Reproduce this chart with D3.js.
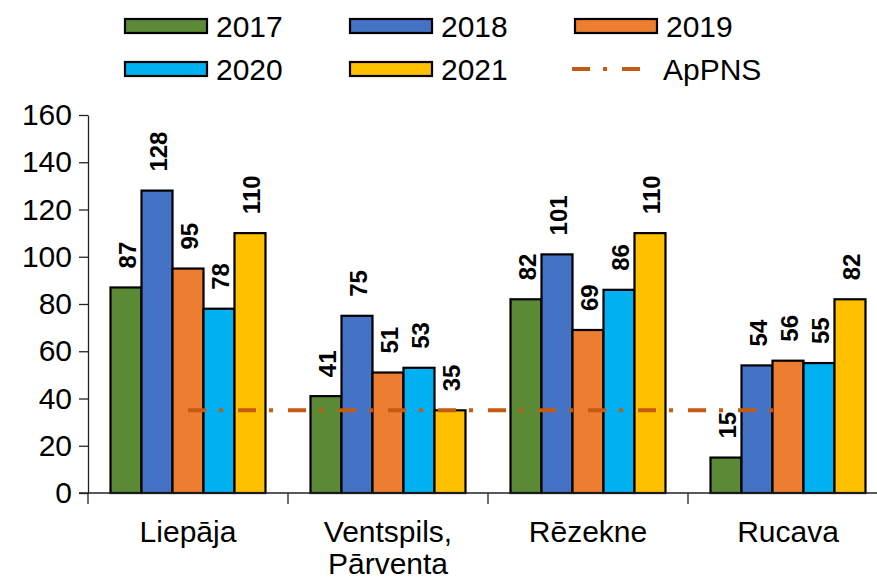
<!DOCTYPE html>
<html>
<head>
<meta charset="utf-8">
<script src="https://cdn.jsdelivr.net/npm/d3@7"></script>
<style>
  body { margin: 0; background: #fff; }
  svg { display: block; font-family: "Liberation Sans", Arial, sans-serif; }
</style>
</head>
<body>
<svg id="chart" width="877" height="580"></svg>
<script>
// Data
const categories = [["Liepāja"], ["Ventspils,", "Pārventa"], ["Rēzekne"], ["Rucava"]];
const years = ["2017", "2018", "2019", "2020", "2021"];
const values = [
    [87, 128, 95, 78, 110],   // Liepāja
    [41, 75, 51, 53, 35],     // Ventspils, Pārventa
    [82, 101, 69, 86, 110],   // Rēzekne
    [15, 54, 56, 55, 82]      // Rucava
];
const apPNS = [35, 35, 35, 35];
const yTicks = [0, 20, 40, 60, 80, 100, 120, 140, 160];

// Colors
const colors = ["#5a8a35", "#4472c4", "#ed7d31", "#00b0f0", "#ffc000"];
const lineColor = "#c55a11";

const svg = d3.select("#chart");

// Scales
const catIdx = categories.map((d, i) => i);
const x0 = d3.scaleBand().domain(catIdx).range([88, 888]).padding(0);
const x1 = d3.scaleBand().domain(years).range([0, x0.bandwidth()])
    .paddingInner(0).paddingOuter(0.726);
const y = d3.scaleLinear().domain([0, 160]).range([493, 115]);

// Y axis
const yAxis = svg.append("g")
    .attr("transform", "translate(88,0)")
    .call(d3.axisLeft(y).tickValues(yTicks).tickSize(9).tickPadding(7).tickSizeOuter(0));
yAxis.select(".domain").attr("stroke", "#222").attr("stroke-width", 1.3);
yAxis.selectAll(".tick line").attr("stroke", "#222").attr("stroke-width", 1.3);
yAxis.selectAll(".tick text")
    .attr("font-size", 30)
    .attr("fill", "#000")
    .attr("font-family", "Liberation Sans, Arial, sans-serif");

// Bars
const groups = svg.append("g")
    .selectAll("g")
    .data(values)
    .join("g")
    .attr("transform", (d, i) => `translate(${x0(i)},0)`);

groups.selectAll("rect")
    .data(d => d.map((v, j) => ({ year: years[j], v, j })))
    .join("rect")
    .attr("x", d => x1(d.year))
    .attr("y", d => y(d.v))
    .attr("width", x1.bandwidth())
    .attr("height", d => y(0) - y(d.v))
    .attr("fill", d => colors[d.j])
    .attr("stroke", "#000")
    .attr("stroke-width", 2.2);

// Value labels (rotated)
groups.selectAll("text")
    .data(d => d.map((v, j) => ({ year: years[j], v, j })))
    .join("text")
    .attr("transform", d => `translate(${x1(d.year) + x1.bandwidth() / 2 + 1},${y(d.v) - 19}) rotate(-90)`)
    .attr("dy", "0.36em")
    .attr("text-anchor", "start")
    .attr("font-size", 24)
    .attr("font-weight", "bold")
    .attr("fill", "#000")
    .text(d => d.v);

// X axis
const xAxis = svg.append("g");
xAxis.append("line")
    .attr("x1", 79).attr("x2", 877)
    .attr("y1", y(0)).attr("y2", y(0))
    .attr("stroke", "#222").attr("stroke-width", 1.3);
xAxis.selectAll("line.tk")
    .data(d3.range(categories.length + 1))
    .join("line")
    .attr("class", "tk")
    .attr("x1", d => 88 + d * x0.step()).attr("x2", d => 88 + d * x0.step())
    .attr("y1", y(0)).attr("y2", y(0) + 11)
    .attr("stroke", "#222").attr("stroke-width", 1.3);

const catLabel = xAxis.selectAll("text")
    .data(categories)
    .join("text")
    .attr("x", (d, i) => x0(i) + x0.bandwidth() / 2)
    .attr("y", 542)
    .attr("text-anchor", "middle")
    .attr("font-size", 30)
    .attr("fill", "#000");
catLabel.selectAll("tspan")
    .data(d => d)
    .join("tspan")
    .attr("x", function () { return d3.select(this.parentNode).attr("x"); })
    .attr("dy", (d, i) => i === 0 ? 0 : 32)
    .text(d => d);

// ApPNS line
const line = d3.line()
    .x((d, i) => x0(i) + x0.bandwidth() / 2)
    .y(d => y(d));
svg.append("path")
    .datum(apPNS)
    .attr("d", line)
    .attr("fill", "none")
    .attr("stroke", lineColor)
    .attr("stroke-width", 4)
    .attr("stroke-dasharray", "18,13,4,15");

// Legend
const legendItems = years.map((yr, i) => ({ label: yr, color: colors[i], type: "bar" }))
    .concat([{ label: "ApPNS", color: lineColor, type: "line" }]);
const legend = svg.append("g")
    .selectAll("g")
    .data(legendItems)
    .join("g")
    .attr("transform", (d, i) => `translate(${125 + (i % 3) * 225},${i < 3 ? 26 : 69})`);

legend.filter(d => d.type === "bar")
    .append("rect")
    .attr("x", 0).attr("y", -7)
    .attr("width", 82).attr("height", 14)
    .attr("fill", d => d.color)
    .attr("stroke", "#000")
    .attr("stroke-width", 2.2);

legend.filter(d => d.type === "line")
    .append("line")
    .attr("x1", -3).attr("x2", 67)
    .attr("y1", 0).attr("y2", 0)
    .attr("stroke", d => d.color)
    .attr("stroke-width", 4)
    .attr("stroke-dasharray", "18,13,4,15");

legend.append("text")
    .attr("x", (d) => d.type === "bar" ? 91 : 88)
    .attr("y", 11)
    .attr("font-size", 30)
    .attr("fill", "#000")
    .text(d => d.label);
</script>
</body>
</html>
